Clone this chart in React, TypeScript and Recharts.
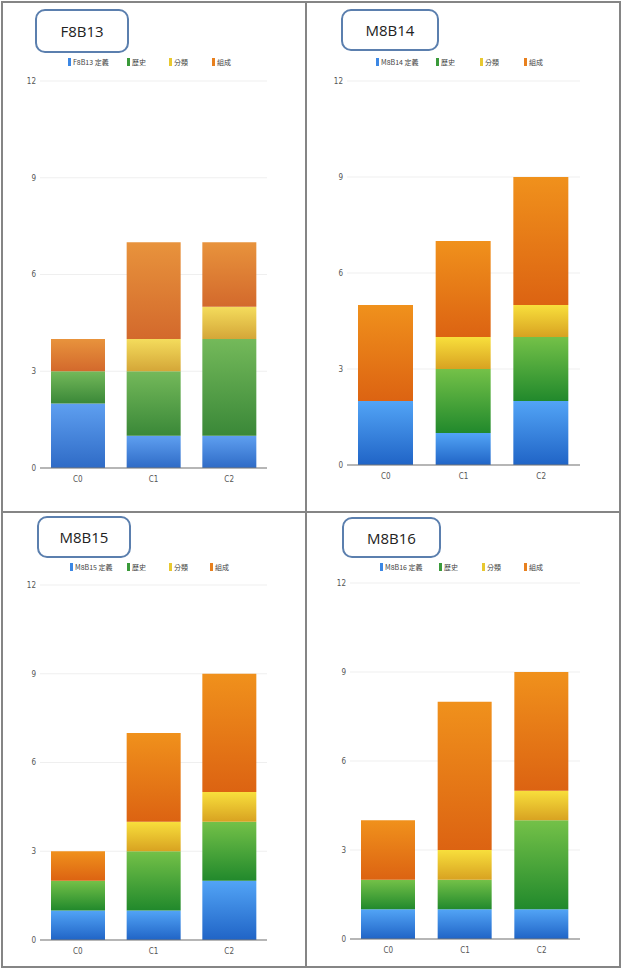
import React from 'react';
import { BarChart, Bar, XAxis, YAxis, CartesianGrid } from 'recharts';

// categories + tick values
const categories = ['C0', 'C1', 'C2'];
const yTicks = [0, 3, 6, 9, 12];
const seriesLabels = ['定義', '歷史', '分類', '組成'];

// F8B13
const f8b13Def = [2, 1, 1];
const f8b13Hist = [1, 2, 3];
const f8b13Class = [0, 1, 1];
const f8b13Comp = [1, 3, 2];

// M8B14
const m8b14Def = [2, 1, 2];
const m8b14Hist = [0, 2, 2];
const m8b14Class = [0, 1, 1];
const m8b14Comp = [3, 3, 4];

// M8B15
const m8b15Def = [1, 1, 2];
const m8b15Hist = [1, 2, 2];
const m8b15Class = [0, 1, 1];
const m8b15Comp = [1, 3, 4];

// M8B16
const m8b16Def = [1, 1, 1];
const m8b16Hist = [1, 1, 3];
const m8b16Class = [0, 1, 1];
const m8b16Comp = [2, 5, 4];

const SERIES_KEYS = ['def', 'hist', 'cls', 'comp'];

const BRIGHT: { [key: string]: [string, string] } = {
    def: ['#52a4f6', '#2064c6'],
    hist: ['#74c148', '#21892c'],
    cls: ['#f8df3c', '#d8a221'],
    comp: ['#f0911c', '#dc6312'],
};

const MUTED: { [key: string]: [string, string] } = {
    def: ['#5e9ff0', '#2f6bc6'],
    hist: ['#74b95a', '#3a8838'],
    cls: ['#f4dc5c', '#d4a638'],
    comp: ['#e8933c', '#d3692c'],
};

const LEGEND_COLORS = ['#3c87e4', '#3a9a3a', '#e8c830', '#e8801e'];

const buildData = (def: number[], hist: number[], cls: number[], comp: number[]) =>
    categories.map((c, i) => ({ name: c, def: def[i], hist: hist[i], cls: cls[i], comp: comp[i] }));

const TICK_FONT = '"Liberation Sans Narrow", "DejaVu Sans Condensed", "Liberation Sans", sans-serif';

interface PanelProps {
    id: string;
    title: string;
    data: any[];
    palette: { [key: string]: [string, string] };
    left: number;
    top: number;
    width: number;
    height: number;
    plot: { x1: number; x2: number; y1: number; y2: number };
    titleBox: { x: number; y: number; w: number; h: number };
    legendX: number;
    legendY: number;
    legendWidths: number[];
    barSize: number;
}

const Panel: React.FC<PanelProps> = (p) => {
    const yAxisWidth = 30;
    const xAxisHeight = 30;
    const margin = {
        top: p.plot.y1,
        left: p.plot.x1 - yAxisWidth,
        right: p.width - p.plot.x2,
        bottom: p.height - p.plot.y2 - xAxisHeight,
    };
    return (
        <div style={{ position: 'absolute', left: p.left, top: p.top, width: p.width, height: p.height }}>
            <div
                style={{
                    position: 'absolute',
                    left: p.titleBox.x,
                    top: p.titleBox.y,
                    width: p.titleBox.w,
                    height: p.titleBox.h,
                    boxSizing: 'border-box',
                    border: '2px solid #5b7fae',
                    borderRadius: 10,
                    display: 'flex',
                    alignItems: 'center',
                    justifyContent: 'center',
                    fontFamily: '"Open Sans", "Noto Sans", sans-serif',
                    fontSize: 15,
                    color: '#222',
                }}
            >
                {p.title}
            </div>
            <div
                style={{
                    position: 'absolute',
                    left: p.legendX,
                    top: p.legendY - 5,
                    display: 'flex',
                    alignItems: 'center',
                    height: 10,
                }}
            >
                {seriesLabels.map((label, i) => (
                    <div key={label} style={{ width: p.legendWidths[i], display: 'flex', alignItems: 'center' }}>
                        <span style={{ display: 'inline-block', width: 3, height: 8, background: LEGEND_COLORS[i], marginRight: 2 }} />
                        <span
                            style={{
                                fontFamily: '"Noto Sans CJK TC", "Liberation Sans Narrow", sans-serif',
                                fontSize: 7,
                                color: '#444',
                                whiteSpace: 'nowrap',
                            }}
                        >
                            {i === 0 ? `${p.title} ${label}` : label}
                        </span>
                    </div>
                ))}
            </div>
            <BarChart width={p.width} height={p.height} data={p.data} margin={margin} barSize={p.barSize}>
                <defs>
                    {SERIES_KEYS.map((k) => (
                        <linearGradient key={k} id={`${p.id}-${k}`} x1="0" y1="0" x2="0" y2="1">
                            <stop offset="0%" stopColor={p.palette[k][0]} />
                            <stop offset="100%" stopColor={p.palette[k][1]} />
                        </linearGradient>
                    ))}
                </defs>
                <CartesianGrid vertical={false} stroke="#efefef" />
                <XAxis
                    dataKey="name"
                    height={xAxisHeight}
                    tickLine={false}
                    axisLine={{ stroke: '#777', strokeWidth: 1.2 }}
                    tick={{ fontSize: 8, fill: '#555', fontFamily: TICK_FONT }}
                />
                <YAxis
                    width={yAxisWidth}
                    domain={[0, 12]}
                    ticks={yTicks}
                    interval={0}
                    axisLine={false}
                    tickLine={false}
                    tickSize={4}
                    tickMargin={0}
                    tick={{ fontSize: 8, fill: '#555', fontFamily: TICK_FONT }}
                />
                {SERIES_KEYS.map((k) => (
                    <Bar key={k} dataKey={k} stackId="a" fill={`url(#${p.id}-${k})`} isAnimationActive={false} />
                ))}
            </BarChart>
        </div>
    );
};

const App: React.FC = () => {
    return (
        <div style={{ position: 'absolute', left: 0, top: 0, width: 624, height: 969, background: '#fff' }}>
            <Panel
                id="p1"
                title="F8B13"
                data={buildData(f8b13Def, f8b13Hist, f8b13Class, f8b13Comp)}
                palette={MUTED}
                left={0}
                top={0}
                width={306}
                height={511}
                plot={{ x1: 40, x2: 267, y1: 81, y2: 468 }}
                titleBox={{ x: 35, y: 9, w: 94, h: 44 }}
                legendX={68}
                legendY={62}
                legendWidths={[59, 42, 43, 42]}
                barSize={54}
            />
            <Panel
                id="p2"
                title="M8B14"
                data={buildData(m8b14Def, m8b14Hist, m8b14Class, m8b14Comp)}
                palette={BRIGHT}
                left={306}
                top={0}
                width={316}
                height={511}
                plot={{ x1: 41, x2: 274, y1: 81, y2: 465 }}
                titleBox={{ x: 35, y: 9, w: 98, h: 42 }}
                legendX={70}
                legendY={62}
                legendWidths={[60, 44, 44, 44]}
                barSize={55}
            />
            <Panel
                id="p3"
                title="M8B15"
                data={buildData(m8b15Def, m8b15Hist, m8b15Class, m8b15Comp)}
                palette={BRIGHT}
                left={0}
                top={512}
                width={306}
                height={456}
                plot={{ x1: 40, x2: 267, y1: 73, y2: 428 }}
                titleBox={{ x: 37, y: 4, w: 94, h: 42 }}
                legendX={70}
                legendY={55}
                legendWidths={[57, 42, 41, 42]}
                barSize={54}
            />
            <Panel
                id="p4"
                title="M8B16"
                data={buildData(m8b16Def, m8b16Hist, m8b16Class, m8b16Comp)}
                palette={BRIGHT}
                left={306}
                top={512}
                width={316}
                height={456}
                plot={{ x1: 44, x2: 274, y1: 71, y2: 427 }}
                titleBox={{ x: 36, y: 5, w: 99, h: 41 }}
                legendX={74}
                legendY={55}
                legendWidths={[59, 43, 42, 42]}
                barSize={54}
            />
            {/* table frame */}
            <div style={{ position: 'absolute', left: 1, top: 1, width: 620, height: 967, boxSizing: 'border-box', border: '2px solid #858585' }} />
            <div style={{ position: 'absolute', left: 305, top: 1, width: 2, height: 967, background: '#858585' }} />
            <div style={{ position: 'absolute', left: 1, top: 511, width: 620, height: 2, background: '#858585' }} />
        </div>
    );
};

export default App;
